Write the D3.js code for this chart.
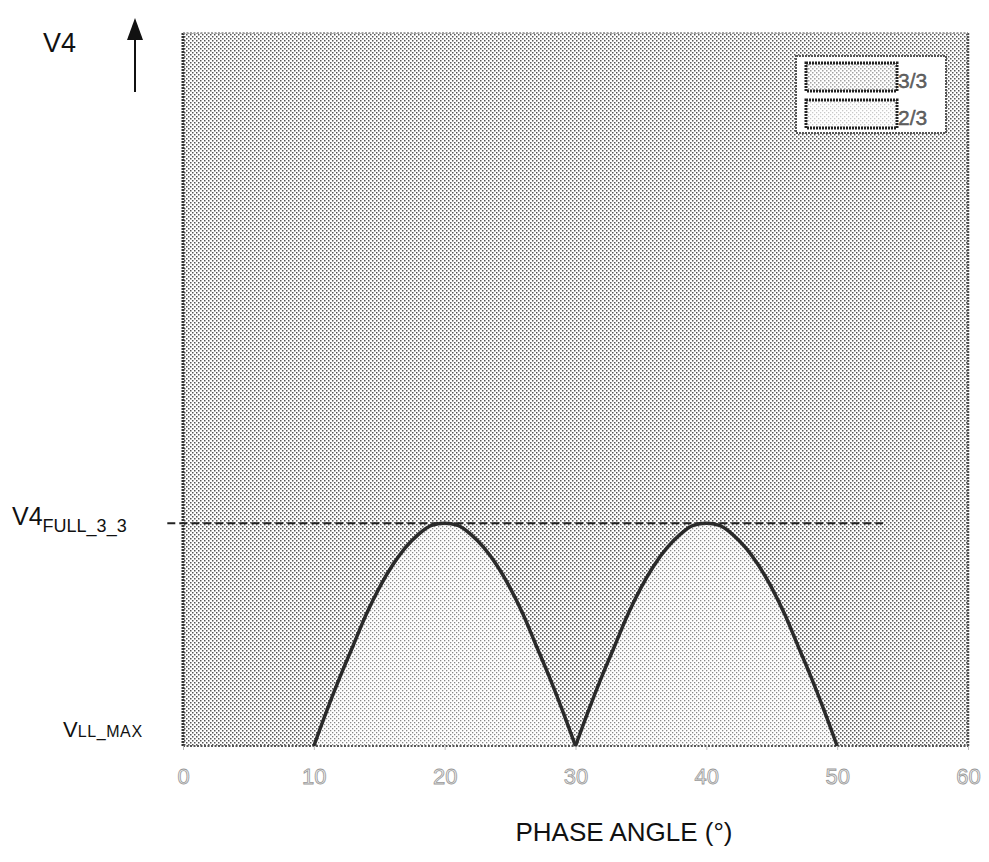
<!DOCTYPE html>
<html>
<head>
<meta charset="utf-8">
<script src="https://cdn.jsdelivr.net/npm/d3@7"></script>
<style>
  body { margin: 0; background: #fff; }
  svg { display: block; font-family: "Liberation Sans", Arial, sans-serif; }
</style>
</head>
<body>
<div id="chart"></div>
<script>
// phase angle ticks (degrees)
const xTicks = [0, 10, 20, 30, 40, 50, 60];

// first arch (V4 relative to V4_FULL_3_3, 0 = VLL_MAX)
const arch1Phase = [10, 11, 12, 13, 14, 15, 16, 17, 18, 19, 20, 21, 22, 23, 24, 25, 26, 27, 28, 29, 30];
const arch1V4    = [0, 0.16, 0.31, 0.45, 0.59, 0.71, 0.81, 0.89, 0.95, 0.99, 1.0, 0.99, 0.95, 0.89, 0.81, 0.71, 0.59, 0.45, 0.31, 0.16, 0];

// second arch
const arch2Phase = [30, 31, 32, 33, 34, 35, 36, 37, 38, 39, 40, 41, 42, 43, 44, 45, 46, 47, 48, 49, 50];
const arch2V4    = [0, 0.16, 0.31, 0.45, 0.59, 0.71, 0.81, 0.89, 0.95, 0.99, 1.0, 0.99, 0.95, 0.89, 0.81, 0.71, 0.59, 0.45, 0.31, 0.16, 0];

// dashed V4_FULL_3_3 reference line
const fullLinePhase = [-1.2, 53.5];
const fullLineV4 = 1.0;

const legendLabels = ["3/3", "2/3"];

const width = 989, height = 862;
const plot = {left: 183, right: 968, top: 33, bottom: 746};

const svg = d3.select("#chart").append("svg")
  .attr("width", width)
  .attr("height", height);

// stipple patterns like the printed figure
const defs = svg.append("defs");
function stipple(id, dotColor, dotSize) {
  const p = defs.append("pattern")
    .attr("id", id)
    .attr("patternUnits", "userSpaceOnUse")
    .attr("width", 4).attr("height", 4);
  p.append("rect").attr("width", 4).attr("height", 4).attr("fill", "#fff");
  p.append("rect").attr("x", 0).attr("y", 0).attr("width", dotSize).attr("height", dotSize).attr("fill", dotColor);
  p.append("rect").attr("x", 2).attr("y", 2).attr("width", dotSize).attr("height", dotSize).attr("fill", dotColor);
}
stipple("dots-dark", "#555", 1.5);
stipple("dots-light", "#888", 1.3);

const x = d3.scaleLinear().domain([0, 60]).range([plot.left, plot.right]);
const y = d3.scaleLinear().domain([0, 3.2]).range([plot.bottom, plot.top]);

// background (3/3 region)
svg.append("rect")
  .attr("x", plot.left).attr("y", plot.top)
  .attr("width", plot.right - plot.left)
  .attr("height", plot.bottom - plot.top)
  .attr("fill", "url(#dots-dark)");

const arches = [
  arch1Phase.map((p, i) => [p, arch1V4[i]]),
  arch2Phase.map((p, i) => [p, arch2V4[i]])
];

const area = d3.area()
  .x(d => x(d[0]))
  .y0(y(0))
  .y1(d => y(d[1]))
  .curve(d3.curveMonotoneX);

const line = d3.line()
  .x(d => x(d[0]))
  .y(d => y(d[1]))
  .curve(d3.curveMonotoneX);

// 2/3 region under the curve
svg.selectAll(".arch-area")
  .data(arches)
  .join("path")
  .attr("class", "arch-area")
  .attr("d", area)
  .attr("fill", "url(#dots-light)");

// frame
svg.append("line")
  .attr("x1", plot.left).attr("x2", plot.left)
  .attr("y1", plot.top).attr("y2", plot.bottom)
  .attr("stroke", "#333").attr("stroke-width", 3).attr("stroke-dasharray", "2,1");
svg.append("line")
  .attr("x1", plot.right).attr("x2", plot.right)
  .attr("y1", plot.top).attr("y2", plot.bottom)
  .attr("stroke", "#555").attr("stroke-width", 2.5).attr("stroke-dasharray", "2,1");
svg.append("line")
  .attr("x1", plot.left).attr("x2", plot.right)
  .attr("y1", plot.bottom).attr("y2", plot.bottom)
  .attr("stroke", "#555").attr("stroke-width", 2).attr("stroke-dasharray", "2,1.5");
svg.append("line")
  .attr("x1", plot.left).attr("x2", plot.right)
  .attr("y1", plot.top).attr("y2", plot.top)
  .attr("stroke", "#888").attr("stroke-width", 1.5).attr("stroke-dasharray", "2,1.5");

// dashed full-voltage line
svg.append("line")
  .attr("x1", x(fullLinePhase[0])).attr("x2", x(fullLinePhase[1]))
  .attr("y1", y(fullLineV4)).attr("y2", y(fullLineV4))
  .attr("stroke", "#222").attr("stroke-width", 2)
  .attr("stroke-dasharray", "8,4");

// V4 curve
svg.selectAll(".arch-line")
  .data(arches)
  .join("path")
  .attr("class", "arch-line")
  .attr("d", line)
  .attr("fill", "none")
  .attr("stroke", "#2a2a2a")
  .attr("stroke-width", 3.5);

// x axis
const xAxis = d3.axisBottom(x).tickValues(xTicks).tickSize(4).tickPadding(18);
const gx = svg.append("g")
  .attr("transform", `translate(0,${plot.bottom})`)
  .call(xAxis);
gx.select(".domain").remove();
gx.selectAll(".tick line").attr("stroke", "#bbb");
gx.selectAll(".tick text")
  .attr("font-size", 22)
  .attr("font-family", "Liberation Sans, Arial, sans-serif")
  .attr("fill", "#eee")
  .attr("stroke", "#999")
  .attr("stroke-width", 0.8);

svg.append("text")
  .attr("x", 624).attr("y", 841)
  .attr("text-anchor", "middle")
  .attr("font-size", 26)
  .attr("fill", "#111")
  .text("PHASE ANGLE (°)");

// y labels
svg.append("text")
  .attr("x", 43).attr("y", 52)
  .attr("font-size", 27)
  .attr("fill", "#111")
  .text("V4");

// up arrow
svg.append("line")
  .attr("x1", 135).attr("x2", 135)
  .attr("y1", 92).attr("y2", 36)
  .attr("stroke", "#111").attr("stroke-width", 2);
svg.append("path")
  .attr("d", "M135,18 L127,40 L143,40 Z")
  .attr("fill", "#111");

const full = svg.append("text")
  .attr("x", 12).attr("y", y(fullLineV4) + 2)
  .attr("font-size", 25)
  .attr("fill", "#111");
full.append("tspan").text("V4");
full.append("tspan").attr("font-size", 18).attr("dy", 7).text("FULL_3_3");

const vll = svg.append("text")
  .attr("x", 63).attr("y", plot.bottom - 9)
  .attr("font-size", 22)
  .attr("fill", "#111");
vll.append("tspan").text("V");
vll.append("tspan").attr("font-size", 16).attr("letter-spacing", 0.6).text("LL_MAX");

// legend
const legend = svg.append("g").attr("transform", "translate(796,56)");
legend.append("rect")
  .attr("width", 150).attr("height", 77)
  .attr("fill", "#fff")
  .attr("stroke", "#555").attr("stroke-width", 2).attr("stroke-dasharray", "2,1");
const patterns = ["url(#dots-dark)", "url(#dots-light)"];
legend.selectAll(".swatch")
  .data(legendLabels)
  .join("rect")
  .attr("class", "swatch")
  .attr("x", 10).attr("y", (d, i) => 7 + i * 37)
  .attr("width", 91).attr("height", 28)
  .attr("fill", (d, i) => patterns[i])
  .attr("fill-opacity", (d, i) => i === 0 ? 0.55 : 0.45)
  .attr("stroke", "#222").attr("stroke-width", 3).attr("stroke-dasharray", "2,1");
legend.selectAll(".legend-label")
  .data(legendLabels)
  .join("text")
  .attr("class", "legend-label")
  .attr("x", 102).attr("y", (d, i) => 32 + i * 37)
  .attr("font-size", 21)
  .attr("fill", "#666")
  .attr("stroke", "#444").attr("stroke-width", 0.4)
  .text(d => d);
</script>
</body>
</html>
